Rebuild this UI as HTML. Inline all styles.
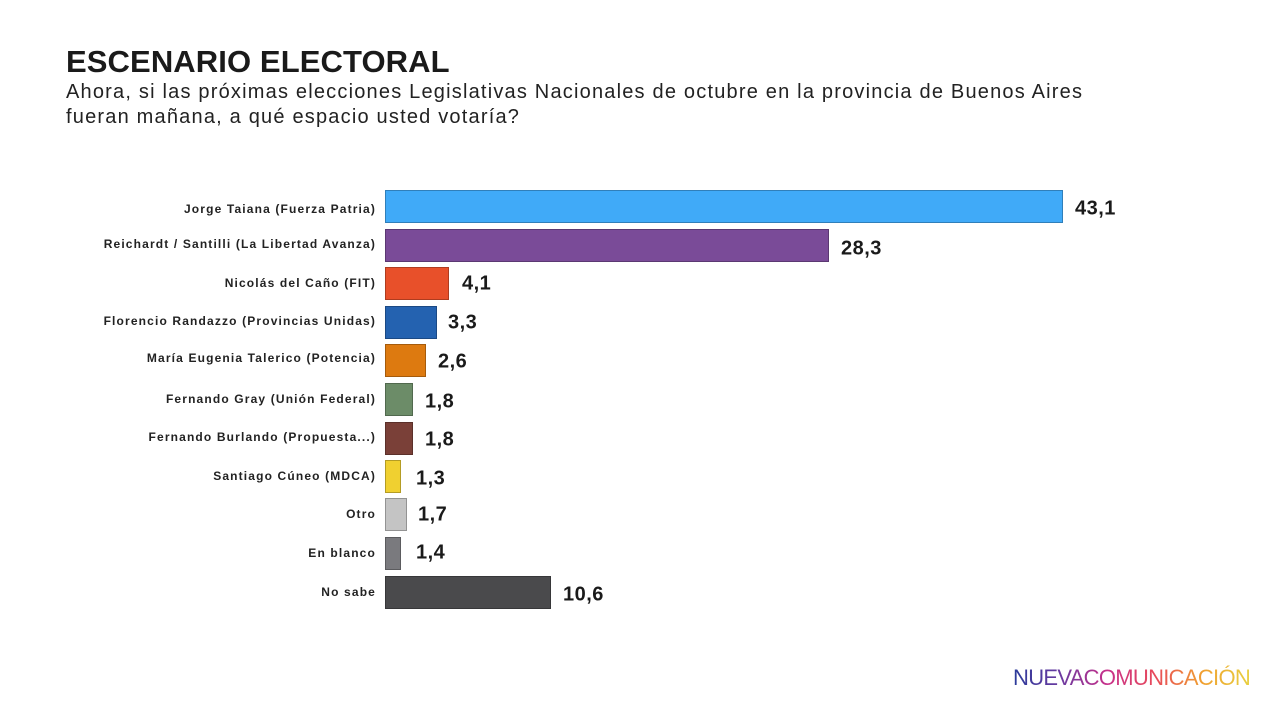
<!DOCTYPE html>
<html><head><meta charset="utf-8"><style>
body{margin:0;width:1280px;height:712px;background:#fff;font-family:"Liberation Sans",sans-serif;position:relative;overflow:hidden;color:#1a1a1a}
.t{position:absolute;left:66px;top:44px;font-size:31px;font-weight:bold;letter-spacing:0.1px}
.s{position:absolute;left:66px;top:80px;font-size:20px;line-height:25px;color:#222;letter-spacing:1.2px;white-space:nowrap}
.l{position:absolute;right:904px;font-size:12px;font-weight:bold;color:#222;white-space:nowrap;transform:translateY(-50%);letter-spacing:1.15px}
.b{position:absolute;left:385px;height:33px;box-sizing:border-box;border:1px solid rgba(0,0,0,0.25)}
.v{position:absolute;font-size:20px;font-weight:bold;transform:translateY(-50%);color:#1a1a1a;letter-spacing:0.5px}
.logo{position:absolute;left:1013px;top:665px;font-size:22px;letter-spacing:-0.7px;background:linear-gradient(90deg,#2a3b9a,#6a3aa0,#c8308a,#e84a5a,#f0a030,#e8d040);-webkit-background-clip:text;background-clip:text;color:transparent}
</style></head><body>
<div class="t">ESCENARIO ELECTORAL</div>
<div class="s">Ahora, si las próximas elecciones Legislativas Nacionales de octubre en la provincia de Buenos Aires<br>fueran mañana, a qué espacio usted votaría?</div>

<div class="l" style="top:209px">Jorge Taiana (Fuerza Patria)</div>
<div class="b" style="top:190px;width:678px;background:#40aaf8"></div>
<div class="v" style="left:1075px;top:209px">43,1</div>

<div class="l" style="top:244px">Reichardt / Santilli (La Libertad Avanza)</div>
<div class="b" style="top:229px;width:444px;background:#7a4b98"></div>
<div class="v" style="left:841px;top:249px">28,3</div>

<div class="l" style="top:283px">Nicolás del Caño (FIT)</div>
<div class="b" style="top:267px;width:64px;background:#e8502a"></div>
<div class="v" style="left:462px;top:284px">4,1</div>

<div class="l" style="top:321px">Florencio Randazzo (Provincias Unidas)</div>
<div class="b" style="top:306px;width:52px;background:#2462b0"></div>
<div class="v" style="left:448px;top:323px">3,3</div>

<div class="l" style="top:358px">María Eugenia Talerico (Potencia)</div>
<div class="b" style="top:344px;width:41px;background:#dd7a10"></div>
<div class="v" style="left:438px;top:362px">2,6</div>

<div class="l" style="top:399px">Fernando Gray (Unión Federal)</div>
<div class="b" style="top:383px;width:28px;background:#6c8c68"></div>
<div class="v" style="left:425px;top:402px">1,8</div>

<div class="l" style="top:437px">Fernando Burlando (Propuesta...)</div>
<div class="b" style="top:422px;width:28px;background:#7a4038"></div>
<div class="v" style="left:425px;top:440px">1,8</div>

<div class="l" style="top:476px">Santiago Cúneo (MDCA)</div>
<div class="b" style="top:460px;width:16px;background:#f0d030"></div>
<div class="v" style="left:416px;top:479px">1,3</div>

<div class="l" style="top:514px">Otro</div>
<div class="b" style="top:498px;width:22px;background:#c4c4c4"></div>
<div class="v" style="left:418px;top:515px">1,7</div>

<div class="l" style="top:553px">En blanco</div>
<div class="b" style="top:537px;width:16px;background:#7a7a7e"></div>
<div class="v" style="left:416px;top:553px">1,4</div>

<div class="l" style="top:592px">No sabe</div>
<div class="b" style="top:576px;width:166px;background:#4a4a4c"></div>
<div class="v" style="left:563px;top:595px">10,6</div>

<div class="logo">NUEVACOMUNICACIÓN</div>
</body></html>
